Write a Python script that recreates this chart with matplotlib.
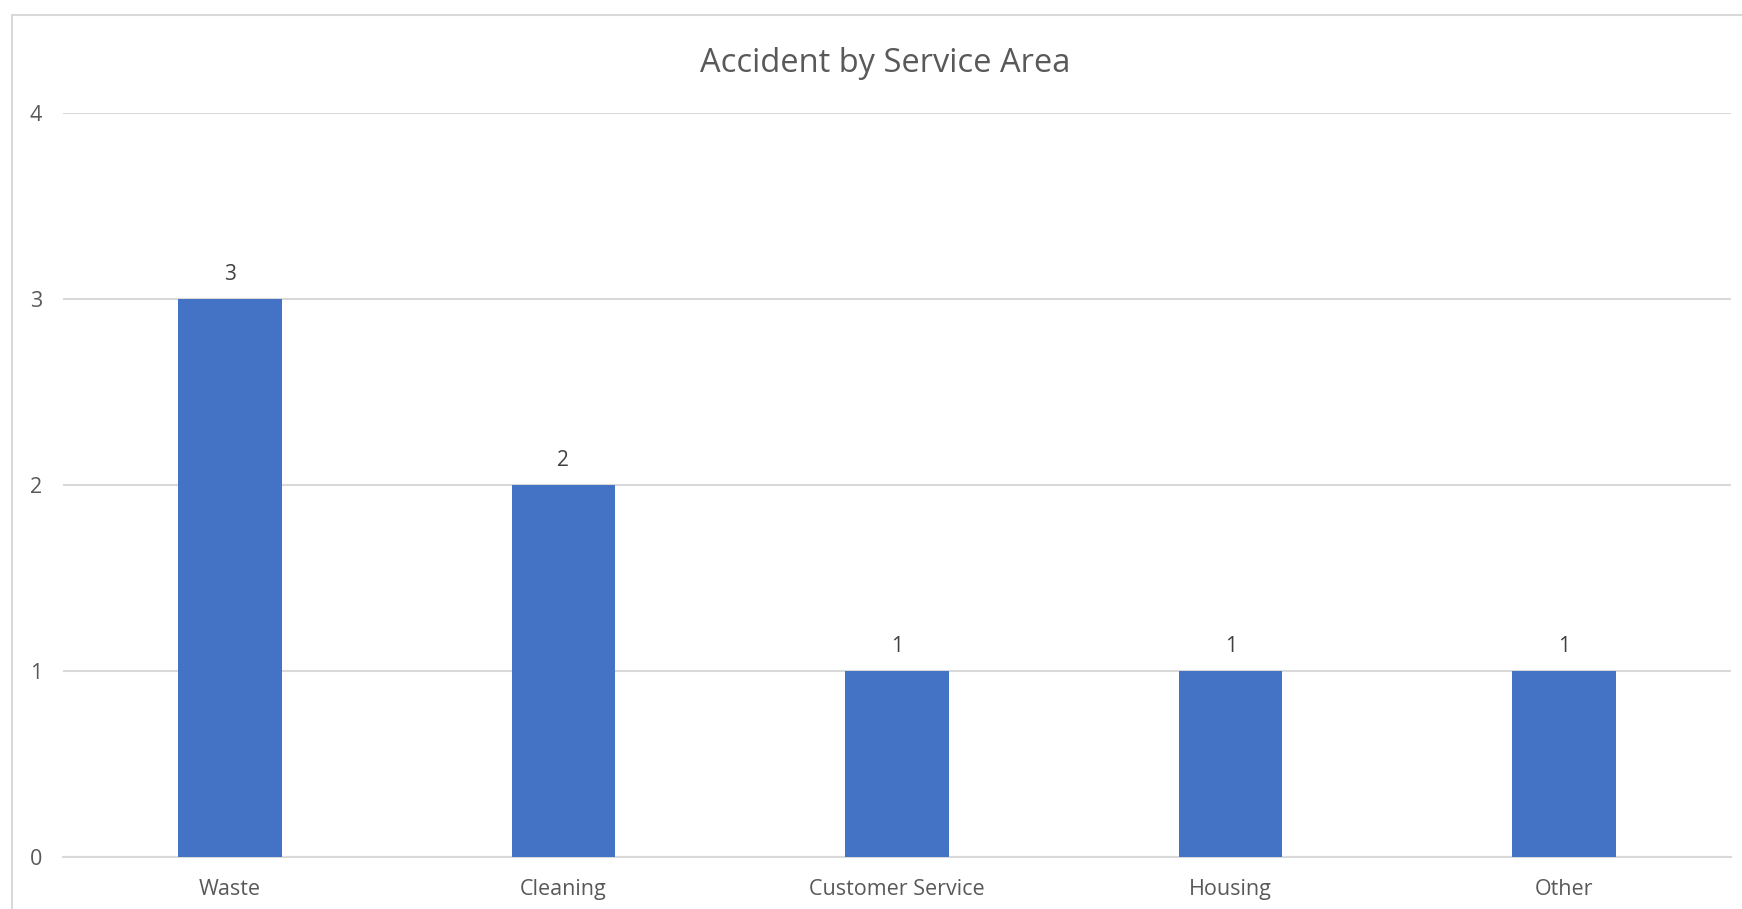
import matplotlib.pyplot as plt
from matplotlib.patches import Rectangle

# data
areas = ["Waste", "Cleaning", "Customer Service", "Housing", "Other"]
accidents = [3, 2, 1, 1, 1]
y_ticks = [0, 1, 2, 3, 4]

plt.rcParams['font.family'] = ['Open Sans', 'DejaVu Sans']

fig = plt.figure(figsize=(17.42, 9.09), dpi=100)
ax = fig.add_axes([63 / 1742, 1 - 857 / 909, (1731 - 63) / 1742, (857 - 113) / 909])

# chart area border, cropped at right and bottom in the screenshot
fig.patches.append(Rectangle((12 / 1742, -0.1), 1.2, 1 - 15 / 909 + 0.1, transform=fig.transFigure,
                             fill=False, edgecolor="#D9D9D9", linewidth=1.5))

x = range(len(areas))
bars = ax.bar(x, accidents, width=0.31, color="#4472C4", zorder=3)
ax.bar_label(bars, padding=10, fontsize=15, color="#404040")

ax.set_xlim(-0.5, len(areas) - 0.5)
ax.set_ylim(0, 4)
ax.set_yticks(y_ticks)
ax.set_xticks(list(x))
ax.set_xticklabels(areas)
ax.yaxis.grid(True, color="#D9D9D9", linewidth=1.5, zorder=0)
for s in ["top", "right", "left"]:
    ax.spines[s].set_visible(False)
ax.spines["bottom"].set_color("#D9D9D9")
ax.spines["bottom"].set_linewidth(1.5)
ax.tick_params(axis="both", length=0, labelsize=15.5, labelcolor="#595959")
ax.tick_params(axis="x", pad=16)
ax.tick_params(axis="y", pad=15)

fig.text(885 / 1742, 1 - 63 / 909, "Accident by Service Area", ha="center", va="center",
         fontsize=23.5, color="#595959")

fig.savefig("out.png")
